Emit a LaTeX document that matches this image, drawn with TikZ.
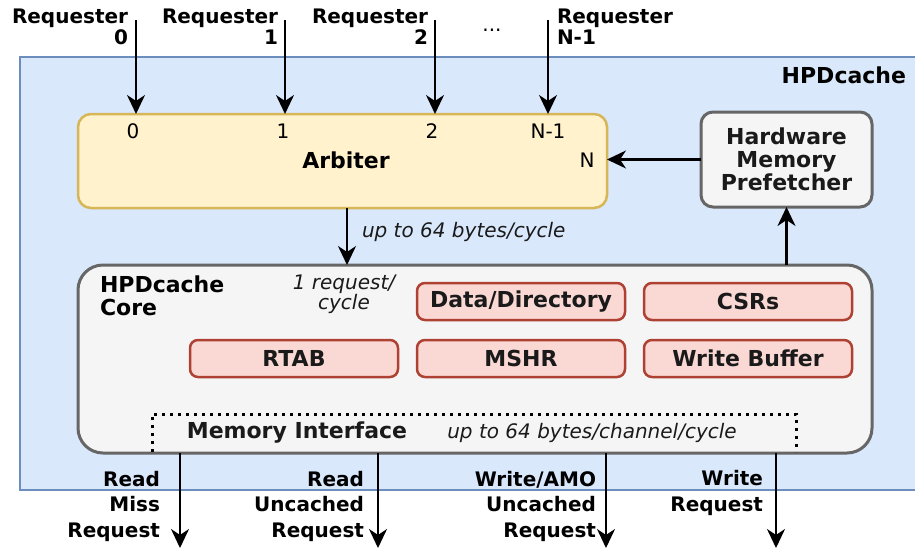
\documentclass[tikz,border=0pt]{standalone}
\usepackage{fontspec}
\setmainfont{DejaVu Sans}
\usetikzlibrary{arrows.meta}
\definecolor{blueF}{HTML}{DAE8FC}
\definecolor{blueD}{HTML}{6C8EBF}
\definecolor{yelF}{HTML}{FFF2CC}
\definecolor{yelD}{HTML}{D6B656}
\definecolor{grayF}{HTML}{F5F5F5}
\definecolor{grayD}{HTML}{666666}
\definecolor{redF}{HTML}{FAD9D5}
\definecolor{redD}{HTML}{AE4132}
\definecolor{txt}{HTML}{1A1A1A}
\begin{document}
\begin{tikzpicture}[x=1pt,y=-1pt,
  every node/.style={inner sep=0pt, outer sep=0pt},
  arr/.style={line width=2.2pt, -{Stealth[length=19pt,width=18pt,inset=6pt]}},
  bl/.style={font=\fontsize{20}{21}\selectfont\bfseries, text=black},
  bl2/.style={font=\fontsize{20}{25.5}\selectfont\bfseries, text=black},
  rg/.style={font=\fontsize{20}{21}\selectfont, text=black},
  it/.style={font=\fontsize{20}{20}\selectfont\itshape, text=txt},
  outerbox/.style={draw=blueD, fill=blueF, line width=1.5pt},
  arbbox/.style={draw=yelD, fill=yelF, line width=2.5pt, rounded corners=13pt},
  graybox/.style={draw=grayD, fill=grayF, line width=3pt},
  redbox/.style={draw=redD, fill=redF, line width=2.5pt, rounded corners=8pt,
    minimum width=208pt, minimum height=37pt,
    font=\fontsize{22}{23}\selectfont\bfseries, text=txt},
]
\useasboundingbox (0,0) rectangle (915,550);

% outer HPDcache box
\node[outerbox, minimum width=900pt, minimum height=433pt, anchor=north west] (hpd) at (20,57) {};
\node[bl, font=\fontsize{22}{24}\selectfont\bfseries, anchor=east] (hpdl) at (906,75) {HPDcache};

% arbiter
\node[arbbox, minimum width=529pt, minimum height=94pt] (arb) at (342.5,161) {};
\node[bl, font=\fontsize{22}{23}\selectfont\bfseries] (arbl) at (346,160) {Arbiter};
\node[rg] (p0) at (133,131) {0};
\node[rg] (p1) at (283,131) {1};
\node[rg] (p2) at (432,131) {2};
\node[rg] (p3) at (548,131) {N-1};
\node[rg] (pN) at (587,160) {N};

% prefetcher
\node[graybox, rounded corners=12pt, minimum width=171pt, minimum height=95pt,
  align=center, font=\fontsize{22}{23}\selectfont\bfseries, text=txt] (pref) at (786.5,159.5)
  {Hardware\\Memory\\Prefetcher};

% core
\node[graybox, rounded corners=25pt, minimum width=794pt, minimum height=188pt] (core) at (475,359) {};
\node[bl, font=\fontsize{22}{23}\selectfont\bfseries, align=left, anchor=west] (corel) at (100,296) {HPDcache\\Core};
\node[it, align=center] (reql) at (344,294) {1 request/\\cycle};

\node[redbox] (dd) at (521,301.5) {Data/Directory};
\node[redbox] (csr) at (748,301.5) {CSRs};
\node[redbox] (rtab) at (294,358.5) {RTAB};
\node[redbox] (mshr) at (521,358.5) {MSHR};
\node[redbox] (wb) at (748,358.5) {Write Buffer};

% memory interface
\draw[line width=3pt, dash pattern=on 3pt off 5pt] (152,452) -- (152,414) -- (796,414) -- (796,452);
\node[bl, font=\fontsize{22}{23}\selectfont\bfseries, text=txt] (mem) at (297,433) {Memory Interface};
\node[it] (meml) at (592,433) {up to 64 bytes/channel/cycle};

% requesters
\coordinate (r0) at (136,20);
\coordinate (r1) at (285,20);
\coordinate (r2) at (435,20);
\coordinate (r3) at (548,20);
\node[bl, align=right, anchor=east] (rq0) at (128,27) {Requester\\0};
\node[bl, align=right, anchor=east] (rq1) at (278,27) {Requester\\1};
\node[bl, align=right, anchor=east] (rq2) at (428,27) {Requester\\2};
\node[rg] (dots) at (492,30) {...};
\node[bl, align=left, anchor=west] (rq3) at (557,27) {Requester\\N-1};
\foreach \r in {r0,r1,r2,r3} \draw[arr] (\r) -- (\r |- arb.north);

% internal arrows
\draw[arr] (pref.west) -- (pref.west -| arb.east);
\draw[arr] (pref.south |- core.north) -- (pref.south);
\coordinate (ac) at (347,0);
\draw[arr] (ac |- arb.south) -- (ac |- core.north);
\node[it, anchor=west] (bwl) at (362,232) {up to 64 bytes/cycle};

% outputs
\coordinate (o1) at (180,548);
\coordinate (o2) at (378,548);
\coordinate (o3) at (606,548);
\coordinate (o4) at (776,548);
\foreach \o in {o1,o2,o3,o4} \draw[arr] (\o |- core.south) -- (\o);
\node[bl2, align=right, anchor=east] (ol1) at (160,506) {Read\\Miss\\Request};
\node[bl2, align=right, anchor=east] (ol2) at (364,506) {Read\\Uncached\\Request};
\node[bl2, align=right, anchor=east] (ol3) at (596,506) {Write/AMO\\Uncached\\Request};
\node[bl2, align=right, anchor=east] (ol4) at (763,493) {Write\\Request};
\end{tikzpicture}
\end{document}
